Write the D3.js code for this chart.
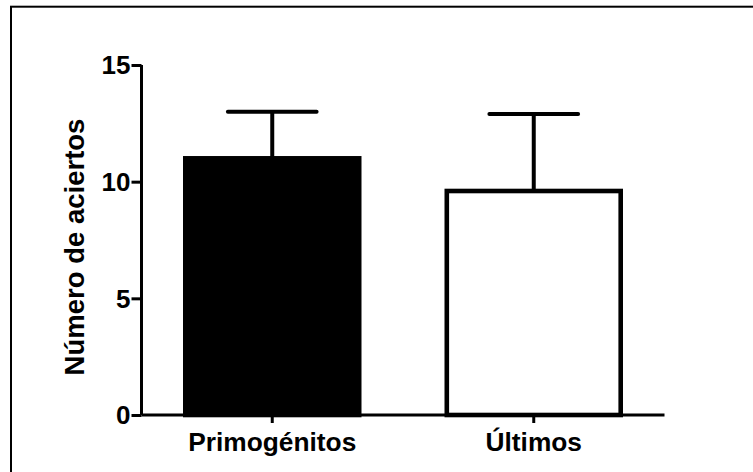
<!DOCTYPE html>
<html>
<head>
<meta charset="utf-8">
<script src="https://cdn.jsdelivr.net/npm/d3@7"></script>
<style>
  html, body { margin: 0; padding: 0; background: #fff; }
  svg { display: block; }
  text { font-family: Arial, "Liberation Sans", Helvetica, sans-serif; font-weight: bold; fill: #000; }
</style>
</head>
<body>
<svg id="chart" width="753" height="472"></svg>
<script>
// Group means and standard deviations
const categories = ["Primogénitos", "Últimos"];
const means = [11.0, 9.6];
const sds = [2.0, 3.3];
const fills = ["#000000", "#ffffff"];
const yTicks = [0, 5, 10, 15];
const yTitle = "Número de aciertos";

const svg = d3.select("#chart");

// Outer frame around the graph
svg.append("rect")
  .attr("x", 11).attr("y", 6.7)
  .attr("width", 800).attr("height", 600)
  .attr("fill", "none").attr("stroke", "#000").attr("stroke-width", 2);

const x = d3.scaleBand()
  .domain(categories)
  .range([141.5, 664.5])
  .paddingInner(0.335)
  .paddingOuter(0.1675);

const y = d3.scaleLinear().domain([0, 15]).range([415, 65]);

const barStroke = 4.6;

// Bars
svg.append("g").selectAll("rect")
  .data(categories)
  .join("rect")
  .attr("x", d => x(d))
  .attr("y", (d, i) => y(means[i]))
  .attr("width", x.bandwidth())
  .attr("height", (d, i) => y(0) - y(means[i]))
  .attr("fill", (d, i) => fills[i])
  .attr("stroke", "#000")
  .attr("stroke-width", barStroke);

// Error bars (upper SD only)
const err = svg.append("g")
  .attr("stroke", "#000")
  .attr("stroke-width", 4)
  .attr("stroke-linecap", "round");
categories.forEach((c, i) => {
  const cx = x(c) + x.bandwidth() / 2;
  const half = x.bandwidth() * 0.255;
  err.append("line")
    .attr("x1", cx).attr("x2", cx)
    .attr("y1", y(means[i])).attr("y2", y(means[i] + sds[i]))
    .attr("stroke-linecap", "butt");
  err.append("line")
    .attr("x1", cx - half).attr("x2", cx + half)
    .attr("y1", y(means[i] + sds[i])).attr("y2", y(means[i] + sds[i]));
});

// Y axis
const yAxis = svg.append("g")
  .attr("transform", "translate(141.5,0)")
  .call(d3.axisLeft(y).tickValues(yTicks).tickFormat(d3.format("d")).tickSize(10).tickPadding(1));
yAxis.select(".domain").attr("stroke", "#000").attr("stroke-width", 3).attr("d", `M0,${y(15)}V${y(0)}`);
yAxis.selectAll(".tick line").attr("stroke", "#000").attr("stroke-width", 3);
yAxis.selectAll(".tick text")
  .attr("font-size", 26)
  .attr("dy", "0.34em")
  .style("font-family", "Arial, 'Liberation Sans', sans-serif")
  .style("font-weight", "bold")
  .attr("fill", "#000");

// X axis
const xAxis = svg.append("g")
  .attr("transform", `translate(0,${y(0)})`)
  .call(d3.axisBottom(x).tickSize(8).tickPadding(9));
xAxis.select(".domain").attr("stroke", "#000").attr("stroke-width", 3).attr("d", "M141.5,0H664.5");
xAxis.selectAll(".tick line").attr("stroke", "#000").attr("stroke-width", 3);
xAxis.selectAll(".tick text")
  .attr("font-size", 26.3)
  .style("font-family", "Arial, 'Liberation Sans', sans-serif")
  .style("font-weight", "bold")
  .attr("fill", "#000");

// Y axis title
svg.append("text")
  .attr("transform", `translate(84,${(y(0) + y(15)) / 2 + 7}) rotate(-90)`)
  .attr("text-anchor", "middle")
  .attr("font-size", 27.5)
  .text(yTitle);
</script>
</body>
</html>
